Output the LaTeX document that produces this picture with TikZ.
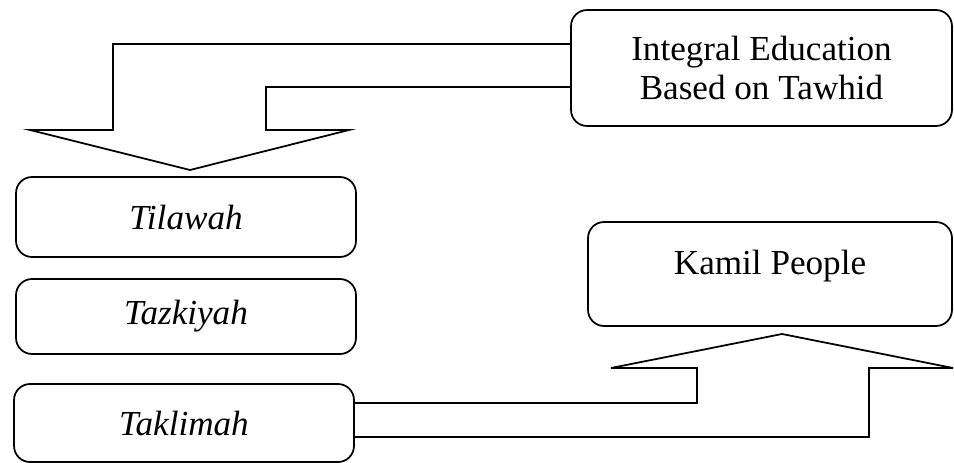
\documentclass[tikz,border=0pt]{standalone}
\usepackage{fontspec}
\setmainfont{Liberation Serif}
\usepackage{tikz}

\begin{document}
\begin{tikzpicture}[x=0.02cm, y=-0.02cm, line width=1pt,
    box/.style={draw, rounded corners=0.32cm, inner sep=0pt, font=\fontsize{20}{22}\selectfont, align=center},
    stage/.style={box, minimum width=6.8cm},
    blockarrow/.style={draw, line join=miter}]
  \useasboundingbox (0,0) rectangle (954,463);

  \node[box, minimum width=7.62cm, minimum height=2.32cm] (integral) at (761.5,68) {Integral Education\\Based on Tawhid};
  \node[box, minimum width=7.28cm, minimum height=2.08cm, text height=14pt, text depth=14pt] (kamil) at (770,274) {Kamil People};

  \node[stage, minimum height=1.6cm] (tilawah) at (186,217) {\textit{Tilawah}};
  \node[stage, minimum height=1.5cm] (tazkiyah) at (186,316.5) {\textit{Tazkiyah}};
  \node[stage, minimum height=1.56cm] (taklimah) at (184,423) {\textit{Taklimah}};

  \coordinate (downtip) at (190,170);
  \coordinate (uptip) at (782,334);

  % block arrow down to the three stages
  \draw[blockarrow] (integral.west |- 0,44) -- (113,44) -- (113,130) -- (30,130) -- (downtip)
    -- (349,130) -- (266,130) -- (266,87) -- (integral.west |- 0,87);

  % block arrow up to the result
  \draw[blockarrow] (taklimah.east |- 0,403) -- (697,403) -- (697,368) -- (611,368) -- (uptip)
    -- (953,368) -- (869,368) -- (869,437) -- (taklimah.east |- 0,437);
\end{tikzpicture}
\end{document}
